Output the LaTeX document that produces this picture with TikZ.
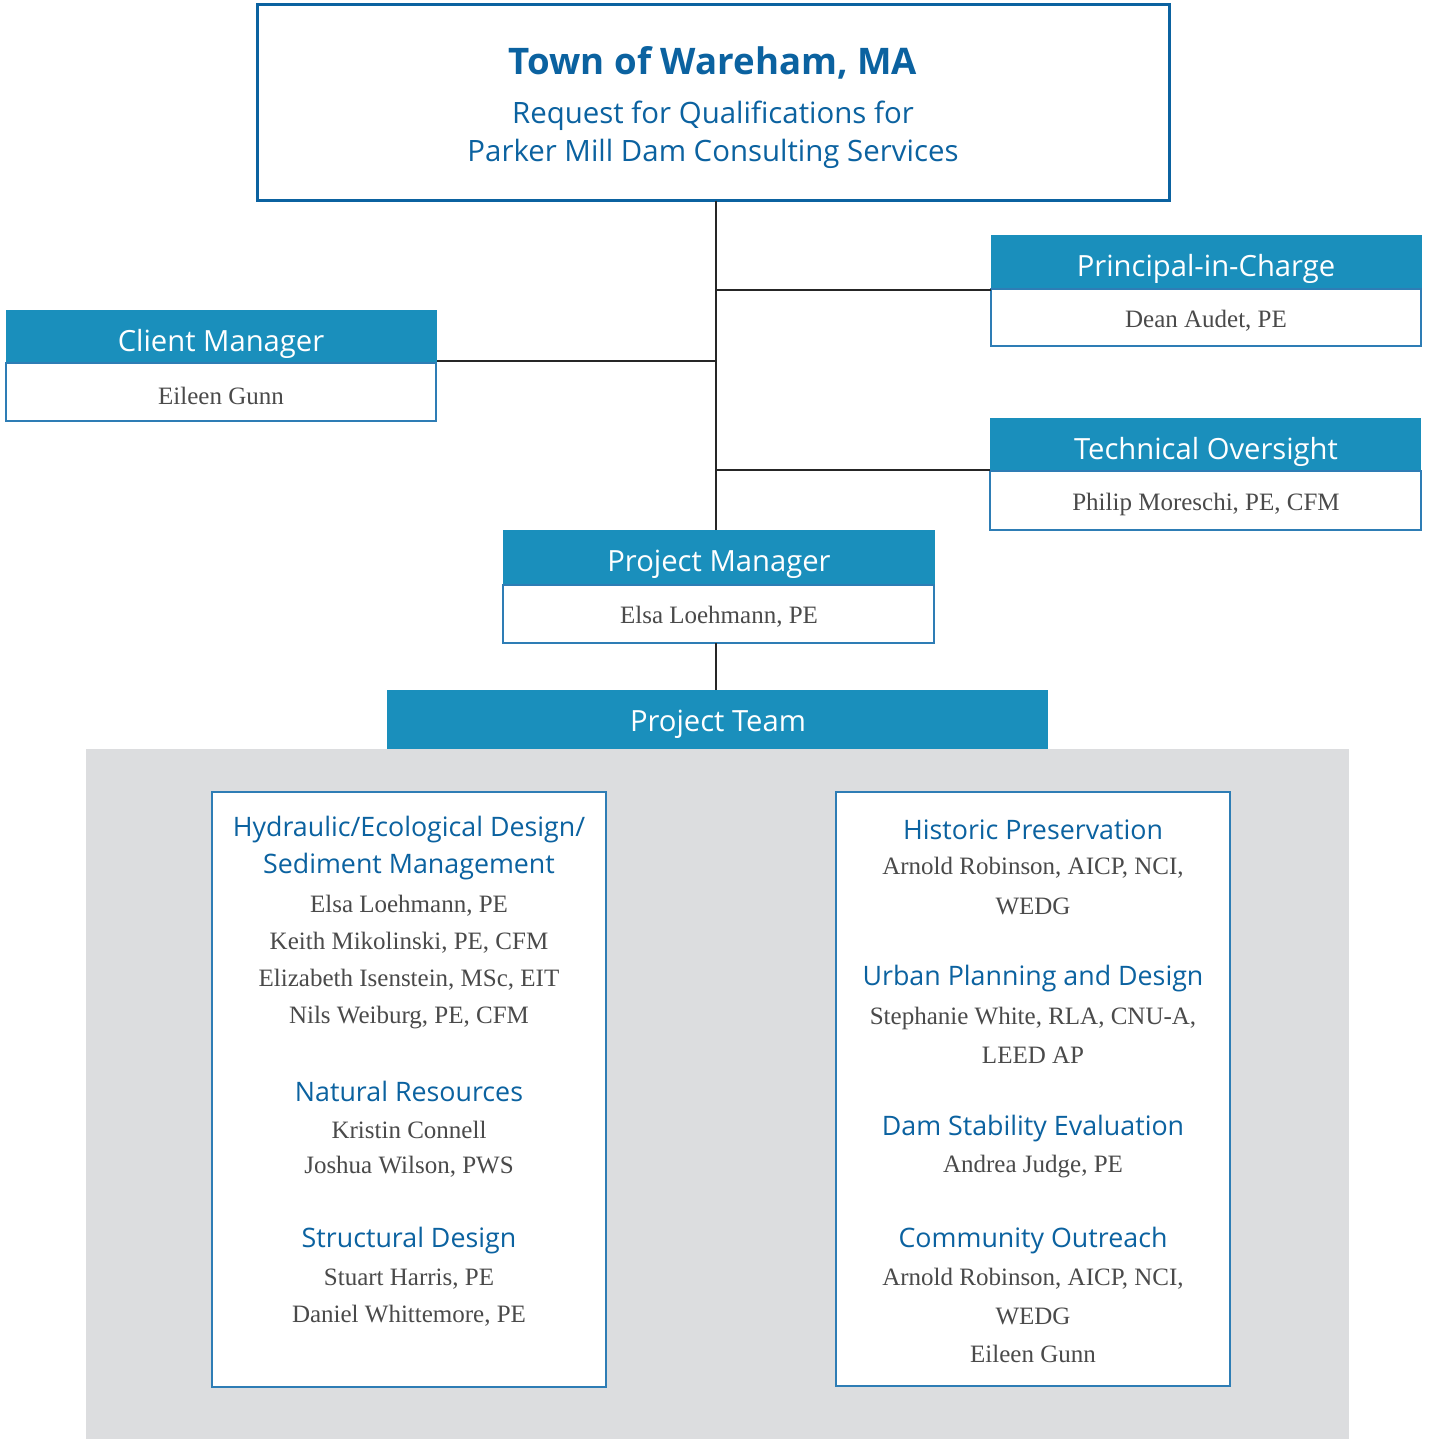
\documentclass[tikz,border=0pt]{standalone}
\usepackage{fontspec}
\setmainfont{Liberation Serif}
\newfontfamily\hfont{Open Sans}
\definecolor{hdrfill}{HTML}{1A8FBC}
\definecolor{titleblue}{HTML}{0B62A0}
\definecolor{boxline}{HTML}{2E7DB5}
\definecolor{namegray}{HTML}{4A4A4A}
\definecolor{bggray}{HTML}{DCDDDF}
\tikzset{
  px/.style={x=0.5pt,y=-0.5pt},
  namebox/.style={fill=white,draw=boxline,line width=0.6pt},
  hdrtext/.style={text=white,font=\hfont\fontsize{14.6}{18}\selectfont,inner sep=0pt,yshift=-1.75pt},
  nametext/.style={text=namegray,font=\fontsize{12.5}{15}\selectfont,inner sep=0pt,yshift=-1pt},
  sectitle/.style={text=titleblue,font=\hfont\fontsize{13.4}{16}\selectfont,inner sep=0pt,yshift=-1pt},
  conn/.style={draw=black!85,line width=0.9pt},
}
\begin{document}
\begin{tikzpicture}[px]
\useasboundingbox (0,0) rectangle (1429,1439);
% gray team background
\fill[bggray] (86,749) rectangle (1349,1439);
% top box
\draw[titleblue,line width=1.5pt,fill=white] (257,5) rectangle (1169,201);
\node[text=titleblue,font=\hfont\bfseries\fontsize{18.3}{22}\selectfont,inner sep=0pt,yshift=-1pt] (title) at (713,61) {Town of Wareham, MA};
\node[text=titleblue,font=\hfont\fontsize{14.7}{18}\selectfont,inner sep=0pt,yshift=-1.5pt] (sub1) at (713,113) {Request for Qualifications for};
\node[text=titleblue,font=\hfont\fontsize{14.7}{18}\selectfont,inner sep=0pt,yshift=-1.5pt] (sub2) at (713,151) {Parker Mill Dam Consulting Services};
\coordinate (topb) at (716,201);
% role boxes
\coordinate (pic) at (991,290);
\fill[hdrfill] (991,235) rectangle (1422,290);
\draw[namebox] (991,289) rectangle (1421,346);
\node[hdrtext] (pich) at (1206,265) {Principal-in-Charge};
\node[nametext] (picn) at (1206,319) {Dean Audet, PE};

\coordinate (cm) at (437,361);
\fill[hdrfill] (6,310) rectangle (437,364);
\draw[namebox] (6,363) rectangle (436,421);
\node[hdrtext] (cmh) at (221,340) {Client Manager};
\node[nametext] (cmn) at (221,394) {Eileen Gunn};

\coordinate (to) at (990,470);
\fill[hdrfill] (990,418) rectangle (1421,472);
\draw[namebox] (990,471) rectangle (1421,530);
\node[hdrtext] (toh) at (1206,448) {Technical Oversight};
\node[nametext] (ton) at (1206,502) {Philip Moreschi, PE, CFM};

\fill[hdrfill] (503,530) rectangle (935,586);
\draw[namebox] (503,585) rectangle (934,643);
\node[hdrtext] (pmh) at (719,561) {Project Manager};
\node[nametext] (pmn) at (719,615) {Elsa Loehmann, PE};
\coordinate (pmtop) at (716,530);
\coordinate (pmbot) at (716,643);

\fill[hdrfill] (387,690) rectangle (1048,749);
\node[hdrtext] (pth) at (718,721) {Project Team};
\coordinate (pttop) at (716,690);

% connectors
\coordinate (j1) at (716,290);
\coordinate (j2) at (716,361);
\coordinate (j3) at (716,470);
\draw[conn] (topb) -- (pmtop);
\draw[conn] (j1) -- (pic);
\draw[conn] (j2) -- (cm);
\draw[conn] (j3) -- (to);
\draw[conn] (pmbot) -- (pttop);

% team boxes
\draw[namebox,line width=0.8pt] (212,792) rectangle (606,1387);
\draw[namebox,line width=0.8pt] (836,792) rectangle (1230,1386);

% left column
\node[sectitle] (l1) at (409,828) {Hydraulic/Ecological Design/};
\node[sectitle] (l2) at (409,865) {Sediment Management};
\node[nametext] (l3) at (409,904) {Elsa Loehmann, PE};
\node[nametext] (l4) at (409,941) {Keith Mikolinski, PE, CFM};
\node[nametext] (l5) at (409,978) {Elizabeth Isenstein, MSc, EIT};
\node[nametext] (l6) at (409,1016) {Nils Weiburg, PE, CFM};
\node[sectitle] (l7) at (409,1089) {Natural Resources};
\node[nametext] (l8) at (409,1128) {Kristin Connell};
\node[nametext] (l9) at (409,1165) {Joshua Wilson, PWS};
\node[sectitle] (l10) at (409,1239) {Structural Design};
\node[nametext] (l11) at (409,1277) {Stuart Harris, PE};
\node[nametext] (l12) at (409,1314) {Daniel Whittemore, PE};

% right column
\node[sectitle] (r1) at (1033,828) {Historic Preservation};
\node[nametext] (r2) at (1033,866) {Arnold Robinson, AICP, NCI,};
\node[nametext] (r3) at (1033,904) {WEDG};
\node[sectitle] (r4) at (1033,977) {Urban Planning and Design};
\node[nametext] (r5) at (1033,1016) {Stephanie White, RLA, CNU-A,};
\node[nametext] (r6) at (1033,1053) {LEED AP};
\node[sectitle] (r7) at (1033,1127) {Dam Stability Evaluation};
\node[nametext] (r8) at (1033,1165) {Andrea Judge, PE};
\node[sectitle] (r9) at (1033,1239) {Community Outreach};
\node[nametext] (r10) at (1033,1277) {Arnold Robinson, AICP, NCI,};
\node[nametext] (r11) at (1033,1314) {WEDG};
\node[nametext] (r12) at (1033,1352) {Eileen Gunn};
\end{tikzpicture}
\end{document}
